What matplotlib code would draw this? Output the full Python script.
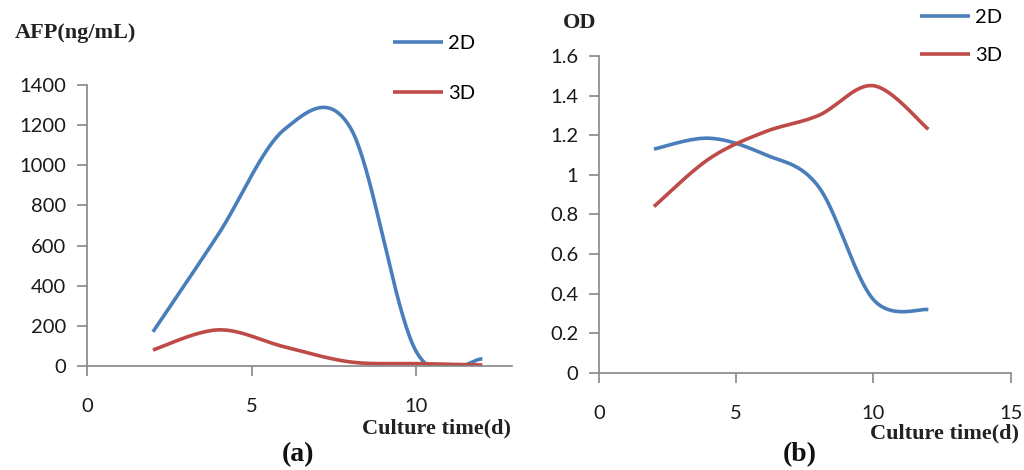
import numpy as np
import matplotlib.pyplot as plt

# culture days
days = [2, 4, 6, 8, 10, 12]

# (a) AFP (ng/mL)
afp_2d = [170, 660, 1180, 1185, 70, 35]
afp_3d = [80, 180, 95, 20, 12, 5]

# (b) OD
od_2d = [1.13, 1.185, 1.105, 0.94, 0.37, 0.32]
od_3d = [0.84, 1.08, 1.215, 1.30, 1.45, 1.23]

blue = '#4A7EBB'
red = '#BE4B48'
gray = '#868686'
tick_font = 'Lato'
serif = 'Liberation Serif'


# excel style smoothed line (bezier through each point)
def smooth(x, y, n=40):
    x = np.asarray(x, float)
    y = np.asarray(y, float)
    px = np.concatenate([[x[0]], x, [x[-1]]])
    py = np.concatenate([[y[0]], y, [y[-1]]])
    xs, ys = [], []
    for i in range(len(x) - 1):
        p0 = np.array([x[i], y[i]])
        p3 = np.array([x[i + 1], y[i + 1]])
        p1 = p0 + (np.array([px[i + 2], py[i + 2]]) - np.array([px[i], py[i]])) / 6
        p2 = p3 - (np.array([px[i + 3], py[i + 3]]) - np.array([px[i + 1], py[i + 1]])) / 6
        t = np.linspace(0, 1, n)[:, None]
        b = (1 - t) ** 3 * p0 + 3 * (1 - t) ** 2 * t * p1 + 3 * (1 - t) * t ** 2 * p2 + t ** 3 * p3
        xs.extend(b[:, 0])
        ys.extend(b[:, 1])
    return xs, ys


def style_axis(ax):
    ax.spines['top'].set_visible(False)
    ax.spines['right'].set_visible(False)
    for s in ['left', 'bottom']:
        ax.spines[s].set_color(gray)
        ax.spines[s].set_linewidth(1.2)
    ax.tick_params(direction='out', length=7, width=1.2, color=gray,
                   labelsize=14.5, labelcolor='#1a1a1a')
    ax.tick_params(axis='x', pad=16)
    ax.tick_params(axis='y', pad=8)
    for lab in ax.get_xticklabels() + ax.get_yticklabels():
        lab.set_family(tick_font)


fig = plt.figure(figsize=(10.24, 4.7), dpi=100)

# panel (a)
ax1 = fig.add_axes([0.085, 0.2213, 0.415, 0.5979])
ax1.plot(*smooth(days, afp_2d), color=blue, lw=2.6, label='2D', solid_capstyle='butt')
ax1.plot(*smooth(days, afp_3d), color=red, lw=2.6, label='3D', solid_capstyle='butt')
ax1.set_xlim(0, 12.9)
ax1.set_ylim(0, 1400)
ax1.set_xticks([0, 5, 10])
ax1.set_yticks(range(0, 1401, 200))
style_axis(ax1)
ax1.legend(loc='upper left', bbox_to_anchor=(393 / 1024, 1 - 35 / 470),
           bbox_transform=fig.transFigure, frameon=False, borderpad=0,
           borderaxespad=0, handlelength=2.5, handletextpad=0.25,
           labelspacing=1.65, prop={'family': tick_font, 'size': 14.5})

# panel (b)
ax2 = fig.add_axes([0.585, 0.2064, 0.402, 0.6745])
ax2.plot(*smooth(days, od_2d), color=blue, lw=2.6, label='2D', solid_capstyle='butt')
ax2.plot(*smooth(days, od_3d), color=red, lw=2.6, label='3D', solid_capstyle='butt')
ax2.set_xlim(0, 15)
ax2.set_ylim(0, 1.6)
ax2.set_xticks([0, 5, 10, 15])
ax2.set_yticks([0, 0.2, 0.4, 0.6, 0.8, 1, 1.2, 1.4, 1.6])
ax2.set_yticklabels(['0', '0.2', '0.4', '0.6', '0.8', '1', '1.2', '1.4', '1.6'])
style_axis(ax2)
ax2.legend(loc='upper left', bbox_to_anchor=(920 / 1024, 1 - 9 / 470),
           bbox_transform=fig.transFigure, frameon=False, borderpad=0,
           borderaxespad=0, handlelength=2.5, handletextpad=0.25,
           labelspacing=1.05, prop={'family': tick_font, 'size': 14.5})

# axis titles and panel letters
fig.text(75 / 1024, 1 - 33 / 470, 'AFP(ng/mL)', family=serif, weight='bold',
         fontsize=16, ha='center', va='center', color='#222222')
fig.text(580 / 1024, 1 - 23 / 470, 'OD', family=serif, weight='bold',
         fontsize=16, ha='center', va='center', color='#222222')
fig.text(437 / 1024, 1 - 428 / 470, 'Culture time(d)', family=serif, weight='bold',
         fontsize=16, ha='center', va='center', color='#222222')
fig.text(945 / 1024, 1 - 433 / 470, 'Culture time(d)', family=serif, weight='bold',
         fontsize=16, ha='center', va='center', color='#222222')
fig.text(298 / 1024, 1 - 455 / 470, '(a)', family=serif, weight='bold',
         fontsize=20, ha='center', va='center', color='#111111')
fig.text(800 / 1024, 1 - 455 / 470, '(b)', family=serif, weight='bold',
         fontsize=20, ha='center', va='center', color='#111111')

fig.savefig('out.png', dpi=100)
